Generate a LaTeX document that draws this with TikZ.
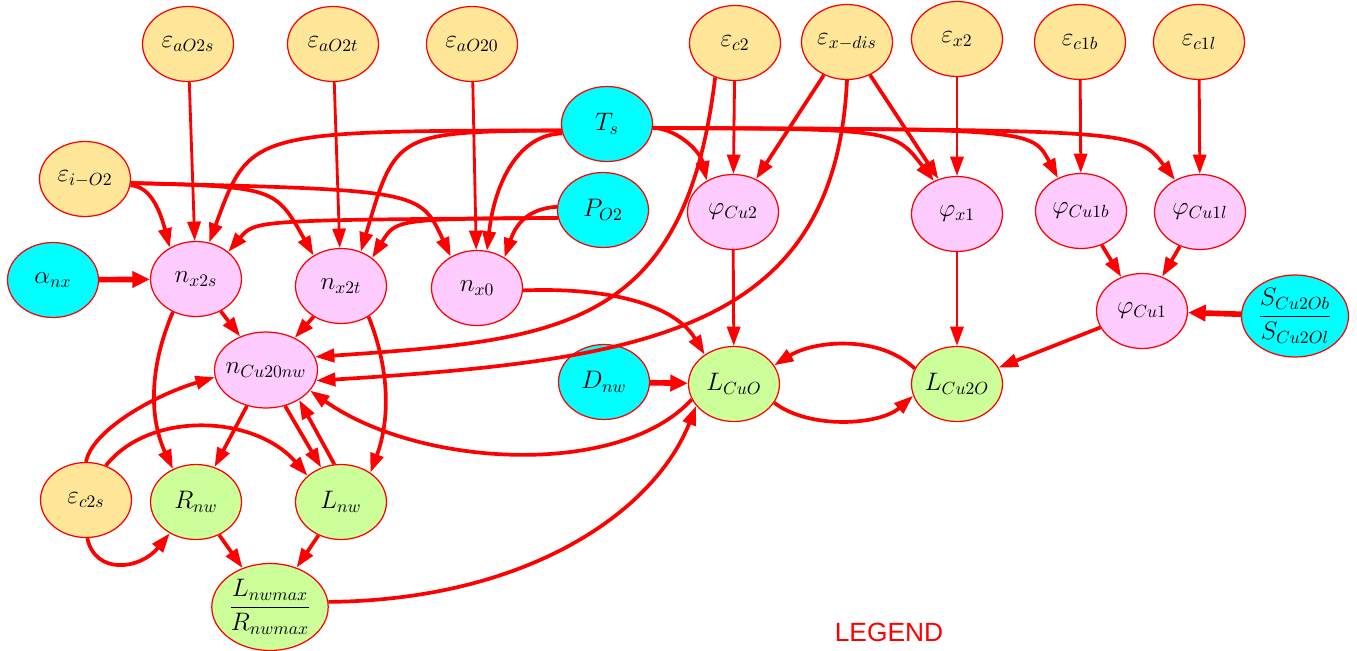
\documentclass[tikz,border=0pt]{standalone}
\usepackage{amsmath}
\usepackage{fontspec}
\newfontfamily\legendfont{Liberation Sans}
\usetikzlibrary{arrows.meta}
\usetikzlibrary{shapes.geometric}

\definecolor{errfill}{HTML}{FFE699}
\definecolor{inpfill}{HTML}{00FFFF}
\definecolor{midfill}{HTML}{FFCCFF}
\definecolor{resfill}{HTML}{CCFF99}

\begin{document}
\begin{tikzpicture}[x=0.02cm, y=-0.02cm,
  every node/.style={ellipse, draw=red, line width=0.7pt, minimum width=1.82cm, minimum height=1.5cm, inner sep=0pt, font=\Large},
  errnode/.style={fill=errfill}, inpnode/.style={fill=inpfill}, midnode/.style={fill=midfill}, resnode/.style={fill=resfill},
  link/.style={draw=red, line width=2.1pt, -{Triangle[length=11pt,width=7.5pt]}},
  thinlink/.style={link, line width=1.6pt},
  boldlink/.style={link, line width=3.2pt, -{Triangle[length=10pt,width=9pt]}}]
\useasboundingbox (0,0) rectangle (1357,650);

% top row
\node[errnode] (eaOs) at (188,44) {$\varepsilon_{aO2s}$};
\node[errnode] (eaOt) at (333,44) {$\varepsilon_{aO2t}$};
\node[errnode] (eaOz) at (472,44) {$\varepsilon_{aO20}$};
\node[errnode] (ecii) at (735,43) {$\varepsilon_{c2}$};
\node[errnode] (exdis) at (847,42) {$\varepsilon_{x-dis}$};
\node[errnode] (exii) at (957,39) {$\varepsilon_{x2}$};
\node[errnode] (ecib) at (1080,42) {$\varepsilon_{c1b}$};
\node[errnode] (ecil) at (1199,42) {$\varepsilon_{c1l}$};

\node[inpnode] (Ts) at (607,124) {$T_s$};
\node[inpnode] (PO) at (603,210) {$P_{O2}$};
\node[errnode] (eiO) at (85,179) {$\varepsilon_{i-O2}$};

\node[midnode] (phiCuii) at (733,212) {$\varphi_{Cu2}$};
\node[midnode] (phixi) at (957,214) {$\varphi_{x1}$};
\node[midnode] (phiCuib) at (1081,211) {$\varphi_{Cu1b}$};
\node[midnode] (phiCuil) at (1200,212) {$\varphi_{Cu1l}$};

\node[inpnode] (anx) at (53,280) {$\alpha_{nx}$};
\node[midnode] (nxs) at (196,279) {$n_{x2s}$};
\node[midnode] (nxt) at (341,286) {$n_{x2t}$};
\node[midnode] (nxz) at (477,288) {$n_{x0}$};

\node[midnode] (phiCui) at (1142,311) {$\varphi_{Cu1}$};
\node[inpnode, minimum width=2.14cm, minimum height=1.64cm, inner ysep=-2pt] (Srat) at (1295,316) {$\dfrac{S_{Cu2Ob}}{S_{Cu2Ol}}$};

\node[midnode, minimum width=2.06cm, minimum height=1.52cm, inner xsep=-3pt] (nCu) at (266,370) {$n_{Cu20nw}$};
\node[inpnode] (Dnw) at (604,382) {$D_{nw}$};
\node[resnode] (LCuO) at (734,384) {$L_{CuO}$};
\node[resnode] (LCuiiO) at (957,384) {$L_{Cu2O}$};

\node[errnode] (ecs) at (86,500) {$\varepsilon_{c2s}$};
\node[resnode] (Rnw) at (196,502) {$R_{nw}$};
\node[resnode] (Lnw) at (341,502) {$L_{nw}$};
\node[resnode, minimum width=2.18cm, minimum height=1.74cm, inner ysep=-2pt] (LRrat) at (270,607) {$\dfrac{L_{nwmax}}{R_{nwmax}}$};

\node[draw=none, rectangle, minimum width=0pt, minimum height=0pt, text=red, font=\legendfont\fontsize{15}{18}\selectfont] (legend) at (889,632) {LEGEND};

% straight links
\draw[thinlink] (eaOs) -- (nxs);
\draw[thinlink] (eaOt) -- (nxt);
\draw[thinlink] (eaOz) -- (nxz);
\draw[thinlink] (ecii) -- (phiCuii);
\draw[link] (exdis.235) -- (phiCuii.55);
\draw[link] (exdis.-55) -- (phixi.118);
\draw[thinlink] (exii) -- (phixi);
\draw[thinlink] (ecib) -- (phiCuib);
\draw[thinlink] (ecil) -- (phiCuil);
\draw[link] (phiCuib) -- (phiCui);
\draw[link] (phiCuil) -- (phiCui);
\draw[boldlink] (Srat) -- (phiCui);
\draw[link] (phiCui) -- (LCuiiO);
\draw[thinlink] (phiCuii) -- (LCuO);
\draw[thinlink] (phixi) -- (LCuiiO);
\draw[boldlink] (Dnw) -- (LCuO);
\draw[boldlink] (anx) -- (nxs);
\draw[link] (nxs) -- (nCu);
\draw[link] (nxt) -- (nCu);
\draw[link] (nCu) -- (Rnw);
\draw[link] (nCu.-62) -- (Lnw.120);
\draw[link] (Lnw.100) -- (nCu.-42);
\draw[link] (Rnw) -- (LRrat);
\draw[link] (Lnw) -- (LRrat);

% curved links from T_s
\draw[link] (Ts.188) .. controls (250,131) and (250,131) .. (nxs.70);
\draw[link] (Ts.188) .. controls (396,132) and (396,132) .. (nxt.60);
\draw[link] (Ts.192) .. controls (520,134) and (495,180) .. (nxz.75);
\draw[link] (Ts.-5) .. controls (675,128) and (700,150) .. (phiCuii.130);
\draw[link] (Ts.-5) .. controls (894,129) and (894,129) .. (phixi.125);
\draw[link] (Ts.-5) .. controls (1032,129) and (1032,129) .. (phiCuib.125);
\draw[link] (Ts.-5) .. controls (1137,130) and (1137,130) .. (phiCuil.128);

% curved links from eps_i-O2 and P_O2
\draw[link] (eiO.-8) .. controls (150,186) and (160,210) .. (nxs.130);
\draw[link] (eiO.-5) .. controls (275,187) and (275,187) .. (nxt.132);
\draw[link] (eiO.-5) .. controls (420,190) and (420,190) .. (nxz.130);
\draw[link] (PO.190) .. controls (255,220) and (255,220) .. (nxs.40);
\draw[link] (PO.190) .. controls (396,219) and (396,219) .. (nxt.42);
\draw[link] (PO.176) .. controls (535,208) and (518,218) .. (nxz.48);

% long links into n_Cu2Onw and L_CuO
\draw[link] (ecii.240) .. controls (685,330) and (560,340) .. (nCu.15);
\draw[link] (exdis.270) .. controls (835,330) and (650,360) .. (nCu.-12);
\draw[link] (LCuO.200) .. controls (620,478) and (420,468) .. (nCu.-25);
\draw[link] (nxz.-3) .. controls (610,287) and (675,305) .. (LCuO.135);
\draw[link] (LRrat.5) .. controls (530,600) and (655,510) .. (LCuO.210);
\draw[link] (LCuiiO.160) .. controls (880,335) and (815,340) .. (LCuO.25);
\draw[link] (LCuO.-25) .. controls (810,430) and (880,425) .. (LCuiiO.195);

% lower left
\draw[link] (nxs.235) .. controls (148,370) and (150,420) .. (Rnw.125);
\draw[link] (nxt.-48) .. controls (390,370) and (390,420) .. (Lnw.45);
\draw[link] (ecs.90) .. controls (92,430) and (155,395) .. (nCu.188);
\draw[link] (ecs.60) .. controls (150,410) and (255,415) .. (Lnw.142);
\draw[link] (ecs.-88) .. controls (95,575) and (140,570) .. (Rnw.230);
\end{tikzpicture}
\end{document}
